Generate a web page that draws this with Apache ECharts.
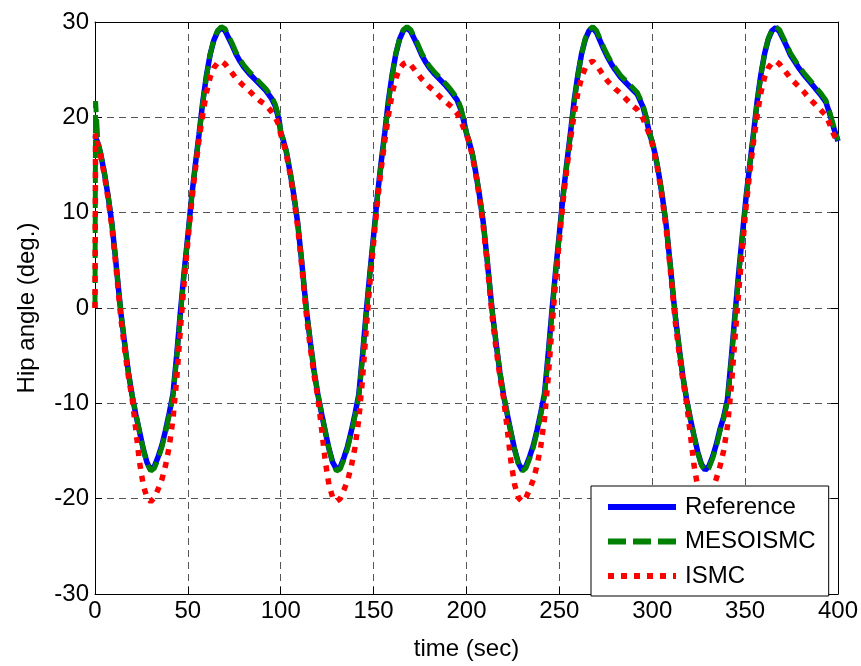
<!DOCTYPE html>
<html>
<head>
<meta charset="utf-8">
<title>Hip angle</title>
<script src="https://cdn.jsdelivr.net/npm/echarts@6/dist/echarts.min.js"></script>
<style>
    html, body { margin: 0; padding: 0; background: #fff; }
    #main { width: 861px; height: 666px; }
</style>
</head>
<body>
<div id="main"></div>
<script>
// time axis (sec), one row per gait cycle
let time = [
    0, 0.3, 1.5, 3, 5, 7, 9, 11, 13, 14, 16, 18, 20, 22, 24, 26, 28, 30, 32, 34, 36, 38, 40, 42, 44, 46, 48, 50, 52, 54, 56, 58, 60, 62, 64, 66, 68, 70, 72, 74, 76, 78, 80, 83, 86, 89, 92, 95, 97, 99,
    100, 101.5, 103, 105, 107, 109, 111, 113, 114, 116, 118, 120, 122, 124, 126, 128, 130, 132, 134, 136, 138, 140, 142, 144, 146, 148, 150, 152, 154, 156, 158, 160, 162, 164, 166, 168, 170, 172, 174, 176, 178, 180, 183, 186, 189, 192, 195, 197, 199,
    200, 201.5, 203, 205, 207, 209, 211, 213, 214, 216, 218, 220, 222, 224, 226, 228, 230, 232, 234, 236, 238, 240, 242, 244, 246, 248, 250, 252, 254, 256, 258, 260, 262, 264, 266, 268, 270, 272, 274, 276, 278, 280, 283, 286, 289, 292, 295, 297,
    298.5, 300, 301.5, 303.5, 305.5, 307.5, 309.5, 311.5, 312.5, 314.5, 316.5, 318.5, 320.5, 322.5, 324.5, 326.5, 328.5, 330.5, 332.5, 334.5, 336.5, 338.5, 340.5, 342.5, 344.5, 346.5, 348.5, 350.5, 352.5, 354.5, 356.5, 358.5, 360.5, 362.5, 364.5, 366.5, 368.5, 370.5, 372.5, 374.5, 376.5, 378.5, 381.5, 384.5, 387.5, 390.5, 393.5, 395.5, 397.5, 400
];

let reference = [
    18.1, 18.0, 17.3, 16.2, 14.2, 11.8, 9.0, 5.3, 1.3, -0.6, -3.8, -6.8, -9.2, -11.2, -13.0, -14.8, -16.2, -17.0, -16.6, -15.6, -14.4, -12.8, -11.0, -9.0, -4.9, -0.4, 3.8, 7.6, 11.6, 15.0, 18.2, 21.6, 24.4, 26.6, 28.1, 29.0, 29.4, 29.1, 28.3, 27.5, 26.6, 25.9, 25.3, 24.6, 24.0, 23.4, 22.8, 22.0, 21.2, 19.8,
    18.4, 17.5, 16.4, 14.3, 11.9, 9.1, 5.4, 1.4, -0.5, -3.7, -6.7, -9.1, -11.1, -13.0, -14.8, -16.2, -16.9, -16.7, -15.7, -14.5, -12.9, -11.1, -9.1, -5.0, -0.5, 3.7, 7.6, 11.7, 15.2, 18.4, 21.8, 24.5, 26.7, 28.2, 29.1, 29.4, 29.0, 28.2, 27.4, 26.5, 25.8, 25.2, 24.5, 23.9, 23.3, 22.6, 21.8, 20.8, 19.2,
    18.3, 17.4, 16.3, 14.2, 11.8, 9.0, 5.3, 1.3, -0.6, -3.8, -6.8, -9.2, -11.2, -13.1, -14.9, -16.3, -17.0, -16.6, -15.6, -14.4, -12.8, -11.0, -9.0, -4.8, -0.3, 3.9, 7.8, 11.8, 15.2, 18.4, 21.8, 24.5, 26.7, 28.2, 29.1, 29.4, 28.9, 28.0, 27.1, 26.3, 25.6, 25.0, 24.2, 23.6, 23.0, 22.4, 21.1, 19.7,
    18.3, 17.4, 16.2, 14.1, 11.6, 8.7, 4.9, 0.9, -1.0, -4.2, -7.2, -9.6, -11.6, -13.4, -15.1, -16.4, -17.0, -16.6, -15.6, -14.3, -12.7, -11.4, -9.6, -5.4, -0.8, 3.6, 7.6, 11.6, 15.0, 18.3, 21.7, 24.5, 26.7, 28.2, 29.1, 29.4, 29.0, 28.2, 27.4, 26.5, 25.9, 25.3, 24.5, 23.8, 23.1, 22.4, 21.6, 20.4, 19.0, 17.5
];

let mesoismc = [
    0, 21.7, 17.6, 16.3, 14.3, 11.9, 9.1, 5.4, 1.4, -0.5, -3.7, -6.7, -9.1, -11.1, -13.0, -14.8, -16.3, -17.1, -16.8, -15.8, -14.6, -13.0, -11.2, -9.2, -5.1, -0.6, 3.6, 7.5, 11.5, 14.9, 18.1, 21.5, 24.3, 26.6, 28.2, 29.1, 29.5, 29.3, 28.5, 27.7, 26.8, 26.1, 25.5, 24.8, 24.2, 23.6, 23.0, 22.2, 21.4, 20.0,
    18.5, 17.6, 16.5, 14.4, 12.0, 9.2, 5.5, 1.5, -0.4, -3.6, -6.6, -9.0, -11.0, -12.9, -14.8, -16.3, -17.1, -16.9, -15.9, -14.7, -13.1, -11.3, -9.3, -5.2, -0.7, 3.5, 7.4, 11.5, 15.0, 18.2, 21.6, 24.4, 26.7, 28.3, 29.2, 29.5, 29.2, 28.4, 27.6, 26.7, 26.0, 25.4, 24.7, 24.1, 23.5, 22.8, 22.0, 21.0, 19.4,
    18.4, 17.5, 16.4, 14.3, 11.9, 9.1, 5.4, 1.4, -0.5, -3.7, -6.7, -9.1, -11.1, -13.1, -14.9, -16.4, -17.1, -16.8, -15.8, -14.6, -13.0, -11.2, -9.2, -5.0, -0.5, 3.7, 7.6, 11.6, 15.0, 18.2, 21.6, 24.4, 26.7, 28.3, 29.2, 29.5, 29.1, 28.2, 27.3, 26.5, 25.8, 25.2, 24.4, 23.8, 23.2, 22.6, 21.3, 19.9,
    18.4, 17.5, 16.3, 14.2, 11.7, 8.8, 5.0, 1.0, -0.9, -4.1, -7.1, -9.5, -11.6, -13.4, -15.2, -16.5, -17.1, -16.8, -15.8, -14.5, -12.9, -11.6, -9.8, -5.6, -1.0, 3.4, 7.4, 11.4, 14.9, 18.2, 21.6, 24.4, 26.7, 28.3, 29.2, 29.5, 29.2, 28.4, 27.6, 26.7, 26.1, 25.5, 24.7, 24.0, 23.3, 22.6, 21.8, 20.6, 19.2, 17.6
];

let ismc = [
    0, 18.3, 17.2, 16.0, 14.0, 11.5, 8.6, 4.9, 0.8, -1.2, -4.4, -7.2, -9.5, -12.8, -16.2, -18.6, -19.9, -20.3, -19.9, -19.0, -18.0, -16.5, -14.5, -11.6, -7.4, -2.2, 2.7, 7.0, 11.0, 14.5, 17.6, 20.3, 22.6, 24.2, 25.2, 25.7, 25.9, 25.6, 25.1, 24.6, 24.1, 23.7, 23.3, 22.8, 22.2, 21.7, 21.3, 20.6, 20.0, 19.2,
    18.2, 17.3, 16.1, 14.1, 11.6, 8.7, 5.0, 0.9, -1.1, -4.3, -7.1, -9.4, -12.7, -16.1, -18.6, -19.9, -20.3, -20.0, -19.1, -18.1, -16.6, -14.6, -11.7, -7.5, -2.3, 2.6, 6.9, 11.0, 14.5, 17.5, 20.2, 22.5, 24.1, 25.1, 25.6, 25.8, 25.5, 25.0, 24.5, 24.0, 23.6, 23.2, 22.7, 22.1, 21.6, 21.1, 20.4, 19.6, 18.6,
    18.2, 17.3, 16.1, 14.0, 11.5, 8.6, 4.9, 0.8, -1.2, -4.4, -7.2, -9.5, -12.8, -16.2, -18.6, -19.9, -20.3, -19.9, -19.0, -18.0, -16.5, -14.5, -11.6, -7.3, -2.1, 2.8, 7.1, 11.2, 14.6, 17.7, 20.4, 22.6, 24.2, 25.2, 25.7, 25.9, 25.5, 24.9, 24.3, 23.8, 23.4, 23.0, 22.5, 21.9, 21.3, 20.8, 19.9, 18.9,
    18.2, 17.2, 16.0, 13.9, 11.3, 8.3, 4.5, 0.4, -1.6, -4.8, -7.6, -10.0, -13.2, -16.5, -18.8, -20.0, -20.3, -19.9, -19.0, -17.9, -16.6, -14.9, -12.4, -8.4, -3.3, 1.6, 6.2, 10.6, 14.2, 17.4, 20.2, 22.6, 24.2, 25.2, 25.7, 25.9, 25.6, 25.1, 24.6, 24.1, 23.7, 23.3, 22.7, 22.0, 21.4, 20.8, 20.2, 19.3, 18.3, 17.3
];

let seriesNames = ["Reference", "MESOISMC", "ISMC"];
let xTicks = { min: 0, max: 400, interval: 50 };
let yTicks = { min: -30, max: 30, interval: 10 };

let font = { fontFamily: "Liberation Sans, Arial, sans-serif", fontSize: 24, color: "#000" };

let pairs = (values) => time.map((t, i) => [t, values[i]]);

// box axes (top / right) only carry the inward ticks
let boxAxis = (position, ticks) => ({
    type: "value",
    position: position,
    min: ticks.min,
    max: ticks.max,
    interval: ticks.interval,
    axisLine: { show: true, onZero: false, lineStyle: { color: "#000", width: 1 } },
    axisTick: { show: true, inside: true, length: 7, lineStyle: { color: "#000" } },
    axisLabel: { show: false },
    splitLine: { show: false }
});

let myChart = echarts.init(document.getElementById("main"));
let option = {
    animation: false,
    backgroundColor: "#fff",
    grid: { left: 95, right: 23, top: 22, bottom: 68 },
    xAxis: [{
        type: "value",
        min: xTicks.min,
        max: xTicks.max,
        interval: xTicks.interval,
        name: "time (sec)",
        nameLocation: "middle",
        nameGap: 43,
        nameTextStyle: font,
        axisLine: { onZero: false, lineStyle: { color: "#000", width: 1 } },
        axisTick: { inside: true, length: 7, lineStyle: { color: "#000" } },
        axisLabel: Object.assign({ margin: 5 }, font),
        splitLine: { show: true, lineStyle: { color: "#555", width: 1, type: [7, 5] } }
    }, boxAxis("top", xTicks)],
    yAxis: [{
        type: "value",
        min: yTicks.min,
        max: yTicks.max,
        interval: yTicks.interval,
        name: "Hip angle (deg.)",
        nameLocation: "middle",
        nameGap: 56,
        nameTextStyle: font,
        axisLine: { onZero: false, lineStyle: { color: "#000", width: 1 } },
        axisTick: { inside: true, length: 7, lineStyle: { color: "#000" } },
        axisLabel: Object.assign({ margin: 6 }, font),
        splitLine: { show: true, lineStyle: { color: "#555", width: 1, type: [7, 5] } }
    }, boxAxis("right", yTicks)],
    legend: {
        orient: "vertical",
        left: 591,
        top: 486,
        padding: [9, 13, 8, 14],
        itemGap: 10.5,
        itemWidth: 68,
        itemHeight: 14,
        backgroundColor: "#fff",
        borderColor: "#000",
        borderWidth: 1,
        borderRadius: 0,
        itemStyle: { opacity: 0 },
        textStyle: Object.assign({ padding: [0, 0, 0, 4] }, font),
        data: [
            { name: seriesNames[0], lineStyle: { width: 6 } },
            { name: seriesNames[1], lineStyle: { width: 6 } },
            { name: seriesNames[2], lineStyle: { width: 6 } }
        ]
    },
    series: [{
        name: seriesNames[0],
        type: "line",
        data: pairs(reference),
        symbol: "none",
        color: "#0000ff",
        lineStyle: { color: "#0000ff", width: 5.5 }
    }, {
        name: seriesNames[1],
        type: "line",
        data: pairs(mesoismc),
        symbol: "none",
        color: "#008000",
        lineStyle: { color: "#008000", width: 5, type: [18, 7] }
    }, {
        name: seriesNames[2],
        type: "line",
        data: pairs(ismc),
        symbol: "none",
        color: "#ff0000",
        lineStyle: { color: "#ff0000", width: 5.5, type: [6, 7] }
    }]
};
myChart.setOption(option);
</script>
</body>
</html>
